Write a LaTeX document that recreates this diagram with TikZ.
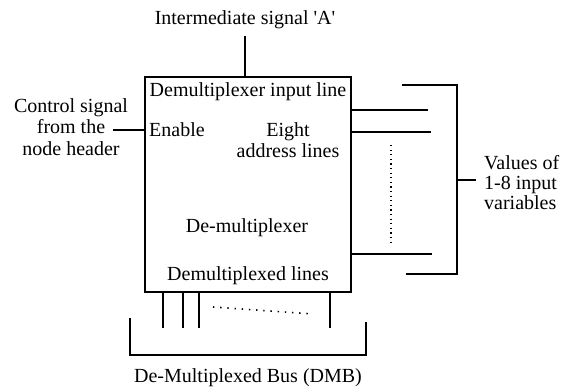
\documentclass[tikz,border=0pt]{standalone}
\usepackage{fontspec}
\setmainfont{Liberation Serif}
\begin{document}
\begin{tikzpicture}[x=1pt,y=-1pt,
  wire/.style={line width=1.7pt},
  dotline/.style={line width=1.5pt,dash pattern=on 1.2pt off 3.4pt},
  busdots/.style={line width=1.6pt,dash pattern=on 1.4pt off 5.8pt},
  lbl/.style={font=\fontsize{20}{21.5}\selectfont,inner sep=0pt},
  blockbox/.style={draw,line width=1.7pt,minimum width=206pt,minimum height=215pt,inner sep=0pt}]
\useasboundingbox (0,0) rectangle (566,391);

% demultiplexer block
\node[blockbox] (dmx) at (248,184.5) {};

% texts inside the block
\node[lbl] (inl) at (248,92) {Demultiplexer input line};
\node[lbl,anchor=west] (en) at (149,130) {Enable};
\node[lbl,align=center] (addr) at (288,140) {Eight\\address lines};
\node[lbl] (name) at (247,228) {De-multiplexer};
\node[lbl] (outl) at (248,276) {Demultiplexed lines};

% intermediate signal on top
\node[lbl] (sigA) at (245,20) {Intermediate signal \textquotesingle A\textquotesingle};
\coordinate (a0) at (245,36);
\draw[wire] (a0) -- (a0 |- dmx.north);

% enable control from the left
\node[lbl,align=center] (ctrl) at (71,127) {Control signal\\from the\\node header};
\coordinate (c0) at (113,130);
\draw[wire] (c0) -- (c0 -| dmx.west);

% address lines on the right
\coordinate (r2) at (428,110);
\coordinate (r3) at (431,132);
\coordinate (r4) at (432,254);
\draw[wire] (dmx.east |- r2) -- (r2);
\draw[wire] (dmx.east |- r3) -- (r3);
\draw[wire] (dmx.east |- r4) -- (r4);
\coordinate (d0) at (391,145);
\coordinate (d1) at (391,246);
\draw[dotline] (d0) -- (d1);

% bracket grouping the input variables
\coordinate (b0) at (402,85);
\coordinate (b1) at (457,85);
\coordinate (b2) at (457,274);
\coordinate (b3) at (406,274);
\coordinate (bt) at (457,180);
\draw[wire] (b0) -- (b1) -- (b2) -- (b3);
\node[lbl,align=left,anchor=west,font=\fontsize{20}{20}\selectfont] (vals) at (484,183) {Values of\\1-8 input\\variables};
\draw[wire] (bt) -- ++(19,0) coordinate (bte);

% demultiplexed output lines
\foreach \x [count=\i] in {163,183,199,330}{
  \coordinate (o\i) at (\x,328);
  \draw[wire] (o\i |- dmx.south) -- (o\i);
}
\coordinate (h0) at (213,307);
\coordinate (h1) at (313,314);
\draw[busdots] (h0) -- (h1);

% bus bracket
\coordinate (u0) at (130,318);
\coordinate (u1) at (130,355);
\coordinate (u2) at (366,355);
\coordinate (u3) at (366,322);
\draw[wire] (u0) -- (u1) -- (u2) -- (u3);
\node[lbl] (bus) at (248,378) {De-Multiplexed Bus (DMB)};
\end{tikzpicture}
\end{document}
